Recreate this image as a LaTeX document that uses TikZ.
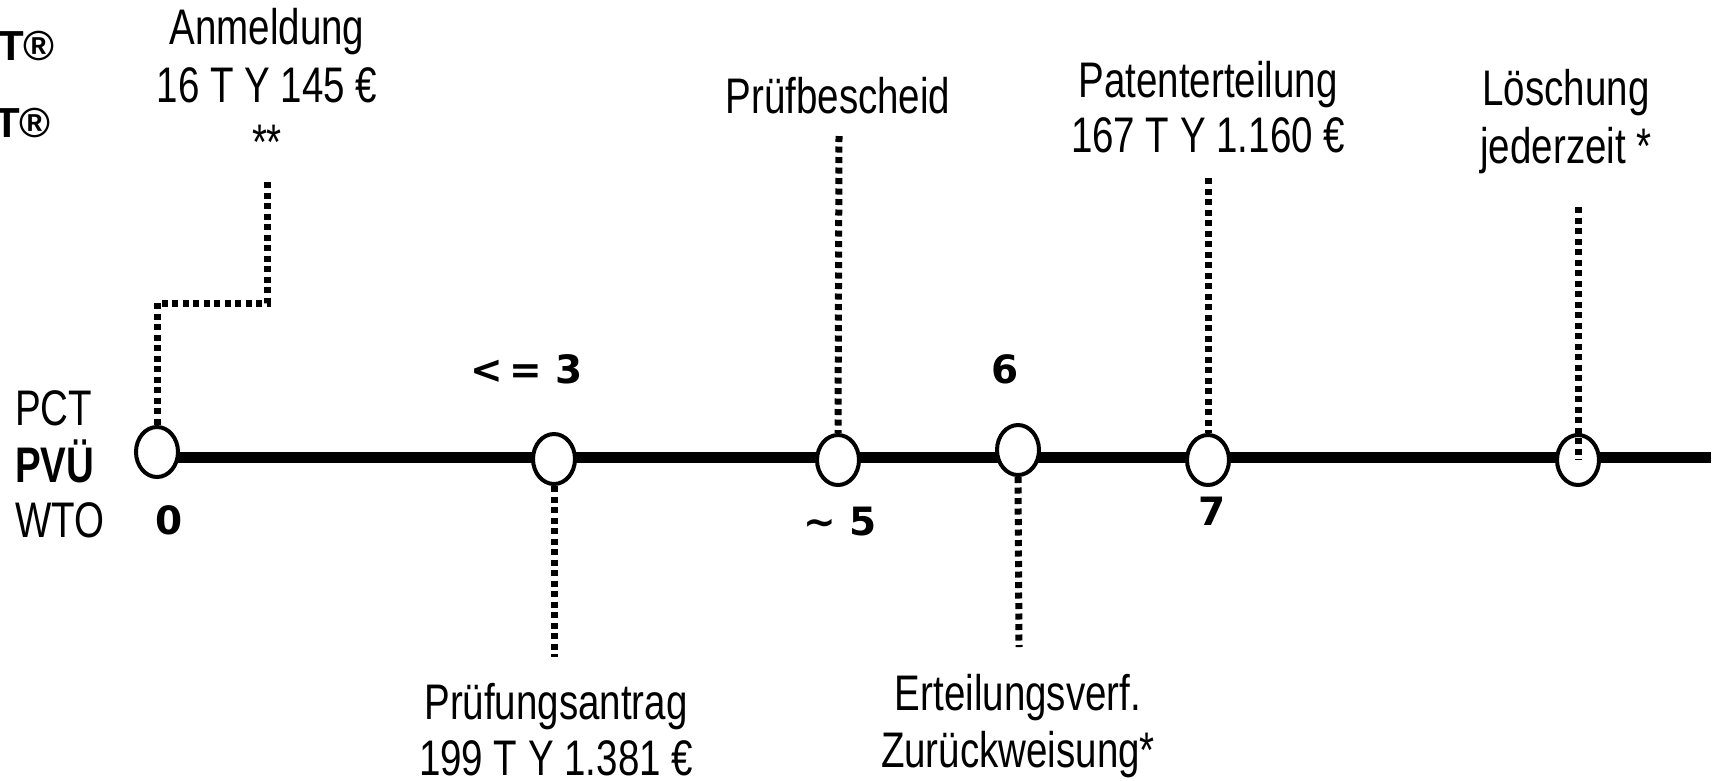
\documentclass[tikz,border=0pt]{standalone}
\usepackage{fontspec}
\setmainfont{Liberation Sans}[FakeStretch=0.77]
\newfontfamily\numfont{DejaVu Sans}
\newfontfamily\widefont{Liberation Sans}
\usetikzlibrary{shapes.geometric}
\begin{document}
\begin{tikzpicture}[x=1pt,y=-1pt,
  lbl/.style={anchor=base,inner sep=0pt,font=\fontsize{50}{58}\selectfont},
  side/.style={anchor=base west,inner sep=0pt,font=\fontsize{50}{58}\selectfont},
  num/.style={anchor=base,inner sep=0pt,font=\numfont\bfseries\fontsize{39}{40}\selectfont},
  regmark/.style={anchor=base east,inner sep=0pt,font=\widefont\bfseries\fontsize{42}{44}\selectfont},
  evt/.style={ellipse,draw=black,line width=4pt,fill=white,minimum width=42pt,minimum height=50pt,inner sep=0pt},
  conn/.style={draw=black,line width=7pt,dash pattern=on 6pt off 4.5pt},
  axis/.style={draw=black,line width=11pt}]
\useasboundingbox (0,0) rectangle (1713,780);
\fill[white] (0,0) rectangle (1713,780);

% left marks
\node[regmark] (m1) at (55,60) {T®};
\node[regmark] (m2) at (51,137) {T®};

% left labels
\node[side] (pct) at (15,425) {PCT};
\node[side,font=\bfseries\fontsize{50}{58}\selectfont] (pvu) at (15,482) {PVÜ};
\node[side] (wto) at (15,537) {WTO};

% main line
\coordinate (linestart) at (156,457);
\coordinate (lineend) at (1711,457);
\draw[axis] (linestart) -- (lineend);

% events
\node[evt] (c0) at (157,452) {};
\node[evt] (c3) at (554,459) {};
\node[evt] (c5) at (838,460) {};
\node[evt] (c6) at (1018,450) {};
\node[evt] (c7) at (1208,460) {};
\node[evt] (cL) at (1578,460) {};

% year numbers
\node[num] (n0) at (169,534) {0};
\node[num] (n3) at (527,383) {<\kern6pt= 3};
\node[num] (n5) at (840,535) {\char"7E\ 5};
\node[num] (n6) at (1005,383) {6};
\node[num] (n7) at (1212,525) {7};

% top labels
\node[lbl] (anm1) at (267,44) {Anmeldung};
\node[lbl] (anm2) at (267,102) {16 T Y 145 €};
\node[lbl] (anm3) at (267,159) {**};
\node[lbl] (pb) at (838,113) {Prüfbescheid};
\node[lbl] (pat1) at (1208,97) {Patenterteilung};
\node[lbl] (pat2) at (1208,152) {167 T Y 1.160 €};
\node[lbl] (loe1) at (1566,105) {Löschung};
\node[lbl] (loe2) at (1566,163) {jederzeit *};

% bottom labels
\node[lbl] (pa1) at (556,719) {Prüfungsantrag};
\node[lbl] (pa2) at (556,775) {199 T Y 1.381 €};
\node[lbl] (ev1) at (1018,710) {Erteilungsverf.};
\node[lbl] (ev2) at (1018,767) {Zurückweisung*};

% connector end points
\coordinate (anmtop) at (267,182);
\coordinate (anmbend) at (267,303);
\coordinate (pbtop) at (839,136);
\coordinate (pattop) at (1208,178);
\coordinate (loetop) at (1578,207);
\coordinate (patbot) at (554,657);
\coordinate (evbot) at (1019,647);

% connectors
\draw[conn] (anmtop) -- (anmbend) -| (c0.north);
\draw[conn] (pbtop) -- (c5.north);
\draw[conn] (pattop) -- (c7.north);
\draw[conn] (loetop) -- (cL.center);
\draw[conn] (c3.south) -- (patbot);
\draw[conn] (c6.south) -- (evbot);
\end{tikzpicture}
\end{document}
